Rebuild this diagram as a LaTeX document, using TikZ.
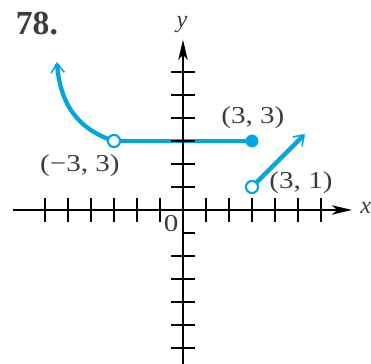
\documentclass[tikz,border=0pt]{standalone}
\usepackage{fontspec}
\setmainfont{Liberation Serif}
\usetikzlibrary{arrows.meta}
\definecolor{graphblue}{RGB}{0,165,225}
\definecolor{labelgray}{RGB}{60,60,60}
\tikzset{
  axis/.style={line width=1.1pt, -{Stealth[length=15pt, width=7pt, inset=4pt]}},
  tickmark/.style={line width=1pt},
  graphline/.style={line width=3.2pt, color=graphblue},
  grapharrow/.style={-{Straight Barb[length=7pt, width=10pt, line width=1.1pt 0]}},
  opendot/.style={circle, draw=graphblue, fill=white, line width=1.6pt,
    minimum size=9pt, inner sep=0pt},
  filldot/.style={circle, fill=graphblue, minimum size=9.5pt, inner sep=0pt},
  pointlabel/.style={font=\fontsize{18}{20}\selectfont, xscale=1.2, text=labelgray}
}
\begin{document}
\begin{tikzpicture}[x=0.6cm, y=0.6cm]
  \useasboundingbox (-7.957,-6.696) rectangle (8.174,9.13);

  % Points of the graph
  \coordinate (curvetop) at (-5.48,6.43);
  \coordinate (lefthole) at (-3,3);
  \coordinate (rightend) at (3,3);
  \coordinate (lowhole) at (3,1);
  \coordinate (linetop) at (5.3,3.3);

  % Graph pieces
  \draw[graphline, grapharrow] (lefthole) to[out=162, in=-86, looseness=1.05] (curvetop);
  \draw[graphline] (lefthole) -- (rightend);
  \draw[graphline, grapharrow] (lowhole) -- (linetop);

  % Axes
  \coordinate (xstart) at (-7.4,0);
  \coordinate (xend) at (7.35,0);
  \coordinate (ystart) at (0,-7);
  \coordinate (yend) at (0,7.4);
  \draw[axis] (xstart) -- (xend);
  \draw[axis] (ystart) -- (yend);
  \foreach \i in {-6,...,-1,1,2,...,6}
    \draw[tickmark] (\i,-0.52) -- (\i,0.52);
  \foreach \j in {-6,...,-2,1,2,...,6}
    \draw[tickmark] (-0.52,\j) -- (0.52,\j);
  \draw[tickmark] (0,-1) -- (0.52,-1);

  % Endpoints
  \node[opendot] (holeA) at (lefthole) {};
  \node[filldot] (dotB) at (rightend) {};
  \node[opendot] (holeC) at (lowhole) {};

  % Labels
  \node[font=\fontsize{25}{28}\selectfont\bfseries, text=labelgray] (num) at (-6.35,8.09) {78.};
  \node[font=\fontsize{18}{20}\selectfont\itshape, text=labelgray] (ylabel) at (-0.04,8.05) {y};
  \node[font=\fontsize{18}{20}\selectfont\itshape, text=labelgray] (xlabel) at (7.95,0.1) {x};
  \node[pointlabel] (zero) at (-0.52,-0.61) {0};
  \node[pointlabel] (labA) at (-4.48,1.91) {(\textminus3, 3)};
  \node[pointlabel] (labB) at (3.04,4.0) {(3, 3)};
  \node[pointlabel] (labC) at (5.13,1.17) {(3, 1)};
\end{tikzpicture}
\end{document}
